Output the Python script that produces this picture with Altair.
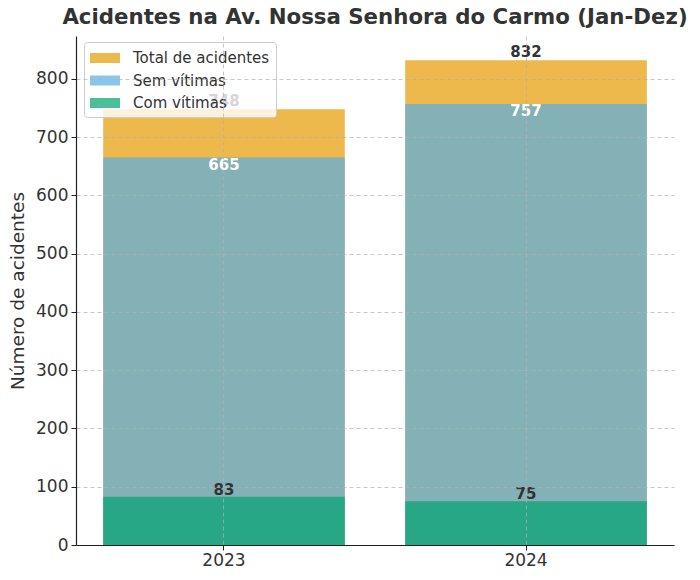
import altair as alt
import pandas as pd

# Accident counts per year
years = ["2023", "2024"]
total = [748, 832]
sem_vitimas = [665, 757]
com_vitimas = [83, 75]

series_names = ["Total de acidentes", "Sem vítimas", "Com vítimas"]
series_colors = ["#e59b00", "#55aee4", "#00a26f"]

df = pd.DataFrame({
    "ano": years,
    "total": total,
    "sem": sem_vitimas,
    "com": com_vitimas,
})

FONT = "DejaVu Sans"
TXT = "#333333"

x_enc = alt.X(
    "ano:N",
    title=None,
    sort=years,
    scale=alt.Scale(paddingInner=0.2, paddingOuter=0.09),
    axis=alt.Axis(
        labelAngle=0,
        labelFontSize=17,
        labelColor=TXT,
        labelFont=FONT,
        labelPadding=2,
        tickSize=5,
        tickColor="#222222",
        domainColor="#222222",
        domainWidth=1.2,
        grid=True,
        gridColor="#b0b0b0",
        gridOpacity=0.7,
        gridDash=[4, 3],
        bandPosition=0.5,
        zindex=1,
    ),
)

y_scale = alt.Scale(domain=[0, 873.6], nice=False)
y_axis = alt.Axis(
    title="Número de acidentes",
    titleFontSize=18.5,
    titleFontWeight="normal",
    titleColor=TXT,
    titleFont=FONT,
    titlePadding=8,
    values=list(range(0, 801, 100)),
    labelFontSize=17,
    labelColor=TXT,
    labelFont=FONT,
    labelPadding=3,
    tickSize=5,
    tickColor="#222222",
    domainColor="#222222",
    domainWidth=1.2,
    grid=True,
    gridColor="#b0b0b0",
    gridOpacity=0.7,
    gridDash=[4, 3],
    zindex=1,
)

color_scale = alt.Scale(domain=series_names, range=series_colors)
legend = alt.Legend(
    title=None,
    orient="none",
    legendX=8,
    legendY=6,
    symbolType="M-1,-0.5H2V0.5H-1Z",
    symbolSize=400,
    symbolOpacity=0.7,
    symbolStrokeWidth=0,
    labelFontSize=15,
    labelFont=FONT,
    labelColor=TXT,
    labelOffset=23,
    rowPadding=4.5,
    padding=6,
    fillColor="rgba(255,255,255,0.8)",
    strokeColor="#cccccc",
    cornerRadius=3,
)

base = alt.Chart(df).encode(x=x_enc)

bar_total = base.mark_bar(opacity=0.7).encode(
    y=alt.Y("total:Q", scale=y_scale, axis=y_axis),
    color=alt.Color("serie:N", scale=color_scale, legend=legend),
).transform_calculate(serie="'Total de acidentes'")

bar_sem = base.mark_bar(opacity=0.7).encode(
    y=alt.Y("sem:Q"),
    color=alt.Color("serie:N"),
).transform_calculate(serie="'Sem vítimas'")

bar_com = base.mark_bar(opacity=0.7).encode(
    y=alt.Y("com:Q"),
    color=alt.Color("serie:N"),
).transform_calculate(serie="'Com vítimas'")

label_style = dict(font=FONT, fontSize=15, fontWeight="bold", align="center")

txt_total = base.mark_text(baseline="alphabetic", dy=-3, color=TXT, **label_style).encode(
    y="total:Q", text="total:Q"
)
txt_sem = base.mark_text(baseline="top", dy=0.5, color="white", **label_style).encode(
    y="sem:Q", text="sem:Q"
)
txt_com = base.mark_text(baseline="alphabetic", dy=-2, color=TXT, **label_style).encode(
    y="com:Q", text="com:Q"
)

chart = (
    alt.layer(bar_total, bar_sem, bar_com, txt_total, txt_sem, txt_com)
    .properties(
        width=598,
        height=509,
        autosize=alt.AutoSizeParams(type="none"),
        padding={"left": 76, "top": 36, "right": 26, "bottom": 35},
        title=alt.TitleParams(
            "Acidentes na Av. Nossa Senhora do Carmo (Jan-Dez)",
            fontSize=21.3,
            fontWeight="bold",
            font=FONT,
            color=TXT,
            anchor="middle",
            offset=8,
        ),
        background="white",
    )
    .configure_view(stroke=None)
)

chart.save("out.html", embed_options={"renderer": "svg", "actions": False})
